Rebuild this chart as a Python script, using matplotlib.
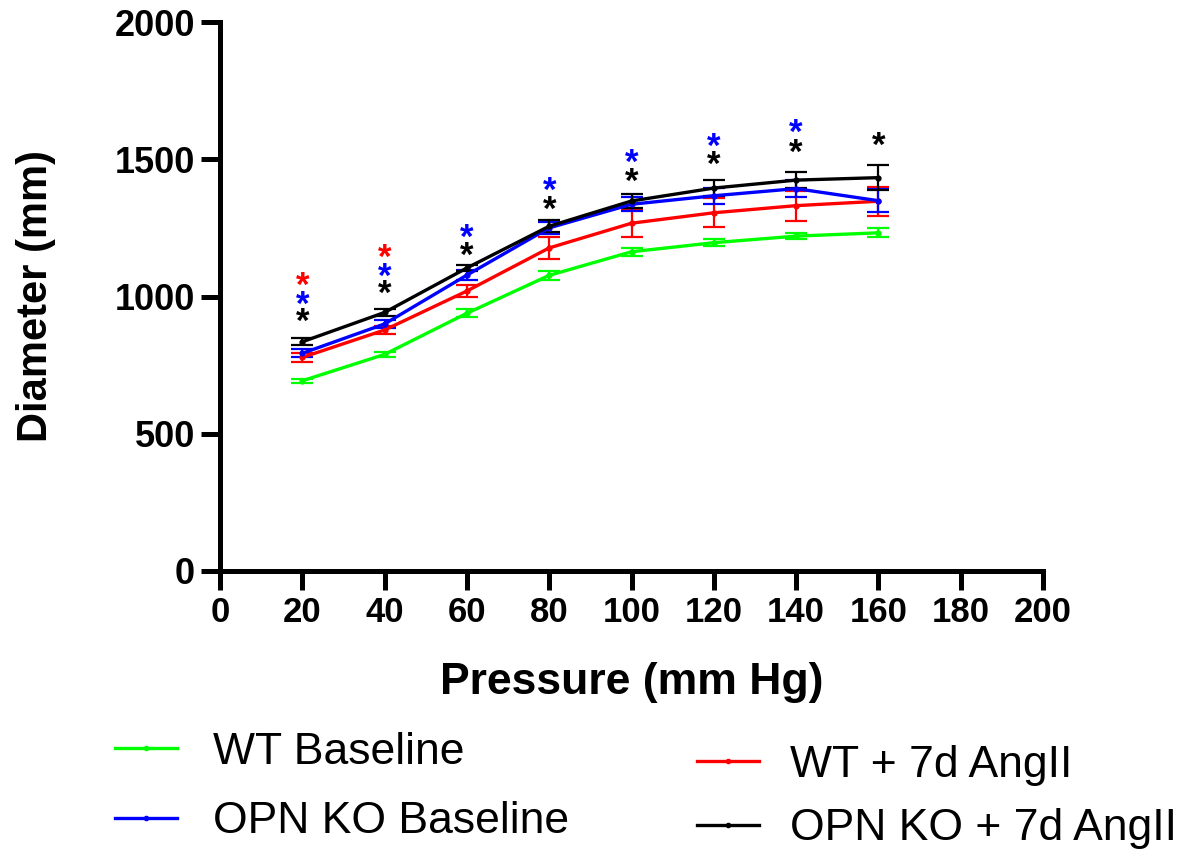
import matplotlib
matplotlib.use("Agg")
import matplotlib.pyplot as plt
from matplotlib.lines import Line2D

plt.rcParams['font.family'] = ['Liberation Sans', 'DejaVu Sans']

# Pressure steps (mm Hg)
pressure = [20, 40, 60, 80, 100, 120, 140, 160]

# Mean diameter and error for each group
wt_base = [693, 789, 939, 1077, 1163, 1196, 1220, 1232]
wt_base_err = [8, 10, 14, 16, 14, 12, 12, 16]

wt_ang = [778, 878, 1020, 1177, 1267, 1305, 1331, 1347]
wt_ang_err = [15, 15, 22, 41, 50, 53, 55, 53]

ko_base = [793, 900, 1078, 1250, 1336, 1367, 1393, 1349]
ko_base_err = [15, 15, 18, 22, 25, 30, 32, 42]

ko_ang = [835, 942, 1104, 1256, 1348, 1395, 1424, 1433]
ko_ang_err = [12, 12, 12, 21, 27, 28, 30, 45]

labels = ["WT Baseline", "OPN KO Baseline", "WT + 7d AngII", "OPN KO + 7d AngII"]
colors = ["#00ff00", "#0000ff", "#ff0000", "#000000"]

# Significance markers: pressure, height, colour
star_x = [20, 20, 20, 40, 40, 40, 60, 60, 80, 80, 100, 100, 120, 120, 140, 140, 160]
star_y = [1075, 1005, 945, 1177, 1107, 1045, 1249, 1184, 1421, 1352,
          1523, 1454, 1581, 1515, 1632, 1559, 1585]
star_c = ["#ff0000", "#0000ff", "#000000", "#ff0000", "#0000ff", "#000000",
          "#0000ff", "#000000", "#0000ff", "#000000", "#0000ff", "#000000",
          "#0000ff", "#000000", "#0000ff", "#000000", "#000000"]

fig = plt.figure(figsize=(11.8, 8.52), dpi=100)
ax = fig.add_axes([220 / 1180, 1 - 571 / 852, (1043 - 220) / 1180, (571 - 22) / 852])

series = [
    (wt_base, wt_base_err, colors[0]),
    (wt_ang, wt_ang_err, colors[2]),
    (ko_base, ko_base_err, colors[1]),
    (ko_ang, ko_ang_err, colors[3]),
]
for y, e, c in series:
    ax.errorbar(pressure, y, yerr=e, color=c, lw=2.4, marker='o', markersize=3.5,
                elinewidth=1.6, capsize=8, capthick=1.6, clip_on=False)

fs_star = 25
for x, y, c in zip(star_x, star_y, star_c):
    ax.annotate('*', (x, y), xytext=(0, -0.58 * fs_star), textcoords='offset points',
                ha='center', va='baseline', fontsize=fs_star, fontweight='bold', color=c)

ax.set_xlim(0, 200)
ax.set_ylim(0, 2000)
ax.set_xticks(range(0, 201, 20))
ax.set_yticks(range(0, 2001, 500))
for s in ['top', 'right']:
    ax.spines[s].set_visible(False)
for s in ['left', 'bottom']:
    ax.spines[s].set_linewidth(3.6)
ax.tick_params(axis='both', which='major', direction='out', length=14, width=3.6,
               labelsize=25, pad=4)
for lab in ax.get_xticklabels() + ax.get_yticklabels():
    lab.set_fontweight('bold')
for lab in ax.get_yticklabels():
    lab.set_fontsize(26)

ax.set_xlabel("Pressure (mm Hg)", fontsize=32, fontweight='bold', labelpad=24)
ax.set_ylabel("Diameter (mm)", fontsize=30, fontweight='bold', labelpad=42)

def handle(c):
    return Line2D([0], [0], color=c, lw=2.4, marker='o', markersize=3)

leg1 = fig.legend([handle(colors[0]), handle(colors[1])], labels[:2],
                  loc='center left', bbox_to_anchor=(115 / 1180, 1 - 787 / 852),
                  frameon=False, fontsize=32, handlelength=1.4, handletextpad=0.8,
                  labelspacing=0.65, borderpad=0, borderaxespad=0)
leg2 = fig.legend([handle(colors[2]), handle(colors[3])], labels[2:],
                  loc='center left', bbox_to_anchor=(697 / 1180, 1 - 797 / 852),
                  frameon=False, fontsize=32, handlelength=1.4, handletextpad=0.7,
                  labelspacing=0.5, borderpad=0, borderaxespad=0)

fig.savefig("out.png", dpi=100)
